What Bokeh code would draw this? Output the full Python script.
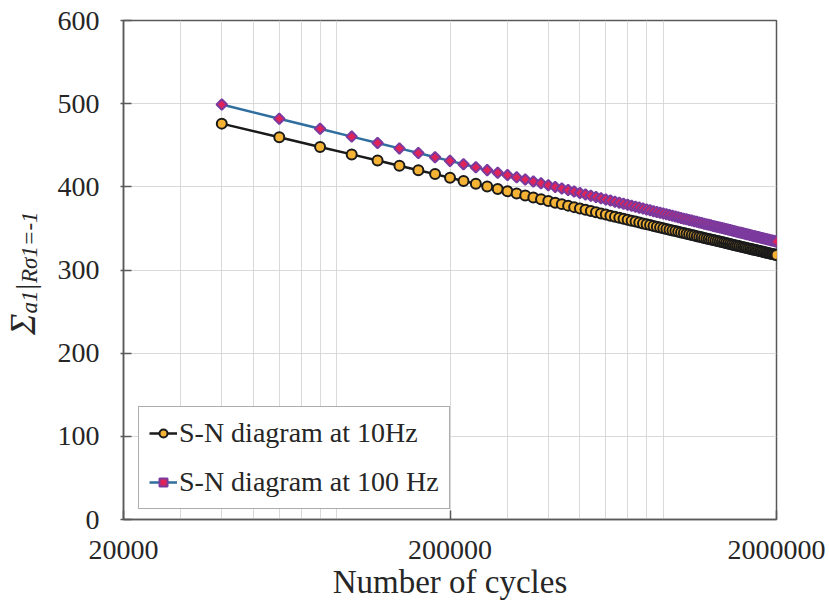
import math
from bokeh.plotting import figure
from bokeh.layouts import row
from bokeh.models import FixedTicker, BasicTickFormatter, Legend, LegendItem, Div
from bokeh.embed import file_html
from bokeh.resources import INLINE

# ---- data ----
cycles = list(range(40000, 2000001, 20000))

sn_10hz = [476.0, 459.6, 448.0, 439.0, 431.6, 425.4, 420.0, 415.3, 411.0, 407.1,
           403.6, 400.4, 397.4, 394.6, 392.0, 389.6, 387.3, 385.1, 383.0, 381.0,
           379.2, 377.4, 375.6, 374.0, 372.4, 370.9, 369.4, 368.0, 366.6, 365.3,
           364.0, 362.8, 361.6, 360.4, 359.3, 358.2, 357.1, 356.0, 355.0, 354.0,
           353.0, 352.1, 351.2, 350.2, 349.4, 348.5, 347.6, 346.8, 346.0, 345.2,
           344.4, 343.6, 342.9, 342.1, 341.4, 340.7, 340.0, 339.3, 338.6, 338.0,
           337.3, 336.7, 336.0, 335.4, 334.8, 334.2, 333.6, 333.0, 332.4, 331.8,
           331.3, 330.7, 330.2, 329.6, 329.1, 328.6, 328.0, 327.5, 327.0, 326.5,
           326.0, 325.5, 325.0, 324.6, 324.1, 323.6, 323.2, 322.7, 322.3, 321.8,
           321.4, 320.9, 320.5, 320.1, 319.6, 319.2, 318.8, 318.4, 318.0]

sn_100hz = [499.0, 481.9, 469.8, 460.4, 452.7, 446.2, 440.6, 435.6, 431.2, 427.2,
            423.5, 420.1, 417.0, 414.1, 411.4, 408.8, 406.4, 404.2, 402.0, 399.9,
            398.0, 396.1, 394.3, 392.6, 390.9, 389.4, 387.8, 386.3, 384.9, 383.5,
            382.2, 380.9, 379.6, 378.4, 377.2, 376.1, 375.0, 373.9, 372.8, 371.8,
            370.7, 369.8, 368.8, 367.8, 366.9, 366.0, 365.1, 364.3, 363.4, 362.6,
            361.7, 360.9, 360.2, 359.4, 358.6, 357.9, 357.1, 356.4, 355.7, 355.0,
            354.3, 353.7, 353.0, 352.3, 351.7, 351.1, 350.4, 349.8, 349.2, 348.6,
            348.0, 347.5, 346.9, 346.3, 345.8, 345.2, 344.7, 344.1, 343.6, 343.1,
            342.6, 342.0, 341.5, 341.0, 340.6, 340.1, 339.6, 339.1, 338.6, 338.2,
            337.7, 337.3, 336.8, 336.4, 335.9, 335.5, 335.1, 334.6, 334.2]

x_major_ticks = [20000, 200000, 2000000]
x_minor_ticks = [30000, 40000, 50000, 60000, 70000, 80000, 90000,
                 300000, 400000, 500000, 600000, 700000, 800000, 900000]
y_ticks = [0, 100, 200, 300, 400, 500, 600]
labels = ["S-N diagram at 10Hz", "S-N diagram at 100 Hz"]
x_title = "Number of cycles"
y_title_parts = ["Σ", "a1", "|", "Rσ1=-1"]

FONT = "Liberation Serif"
TXT = "#262626"
FRAME = "#595959"
GRID = "#d9d9d9"
W_LAB = 50
H = 607

# ---------- rotated y-axis title as HTML (mixed italic / subscripts) ----------
y_html = (
    '<div style="position:absolute; left:6px; top:335px; transform-origin:0 0; '
    'transform:rotate(-90deg); white-space:nowrap; line-height:34px; '
    "font-family:'Liberation Serif', Times, serif; color:%s;\">"
    '<i style="font-size:36px">%s</i>'
    '<i style="font-size:23px; position:relative; top:2px">%s</i>'
    '<span style="font-size:28px; position:relative; top:0px; margin:0 1px">%s</span>'
    '<i style="font-size:23px; position:relative; top:2px">%s</i>'
    '</div>'
) % (TXT, y_title_parts[0], y_title_parts[1], y_title_parts[2], y_title_parts[3])
ylab = Div(text=y_html, width=W_LAB, height=H, margin=0,
           styles={"position": "relative", "overflow": "visible"})

# ---------- main chart ----------
p = figure(width=829 - W_LAB, height=H, x_axis_type="log",
           x_range=(20000, 2000000), y_range=(0, 600), title=None,
           output_backend="svg", toolbar_location=None,
           min_border_left=123 - W_LAB, min_border_right=53,
           min_border_top=20, min_border_bottom=88)
p.background_fill_color = "white"
p.border_fill_color = "white"
p.outline_line_color = FRAME
p.outline_line_width = 1.5

p.xaxis.ticker = FixedTicker(ticks=x_major_ticks, minor_ticks=x_minor_ticks)
p.xaxis.formatter = BasicTickFormatter(use_scientific=False)
p.yaxis.ticker = FixedTicker(ticks=y_ticks)
for ax in (p.xaxis, p.yaxis):
    ax.axis_line_color = FRAME
    ax.axis_line_width = 1.5
    ax.major_tick_line_color = FRAME
    ax.major_tick_line_width = 1.5
    ax.minor_tick_line_color = None
    ax.major_label_text_color = TXT
    ax.major_label_text_font = FONT
    ax.major_label_text_font_size = "28px"
p.xaxis.major_tick_in = 9
p.xaxis.major_tick_out = 0
p.xaxis.major_label_standoff = 17
p.yaxis.major_tick_in = 8
p.yaxis.major_tick_out = 3
p.yaxis.major_label_standoff = 21

p.xaxis.axis_label = x_title
p.xaxis.axis_label_text_font = FONT
p.xaxis.axis_label_text_font_size = "33px"
p.xaxis.axis_label_text_font_style = "normal"
p.xaxis.axis_label_text_color = TXT
p.xaxis.axis_label_standoff = 2

p.xgrid.grid_line_color = GRID
p.xgrid.minor_grid_line_color = GRID
p.ygrid.grid_line_color = GRID

l100 = p.line(cycles, sn_100hz, line_color="#2f6e9e", line_width=2.5)
m100 = p.scatter(cycles, sn_100hz, marker="square", angle=math.pi / 4, size=7.5,
                 fill_color="#e0245a", line_color="#7b3a9e", line_width=2)
l10 = p.line(cycles, sn_10hz, line_color="#1a1a1a", line_width=2.5)
m10 = p.scatter(cycles, sn_10hz, marker="circle", size=10,
                fill_color="#f5b335", line_color="#1a1a1a", line_width=2)

legend = Legend(items=[LegendItem(label=labels[0], renderers=[l10, m10]),
                       LegendItem(label=labels[1], renderers=[l100, m100])],
                location=(15, 10))
legend.label_text_font = FONT
legend.label_text_font_size = "28px"
legend.label_text_color = TXT
legend.glyph_width = 28
legend.glyph_height = 20
legend.label_standoff = 2
legend.padding = 10
legend.spacing = 17
legend.margin = 0
legend.border_line_color = FRAME
legend.border_line_width = 1.5
legend.background_fill_color = "white"
legend.background_fill_alpha = 1
p.add_layout(legend)

layout = row(ylab, p, spacing=0)
open("out.html", "w").write(file_html(layout, INLINE))
